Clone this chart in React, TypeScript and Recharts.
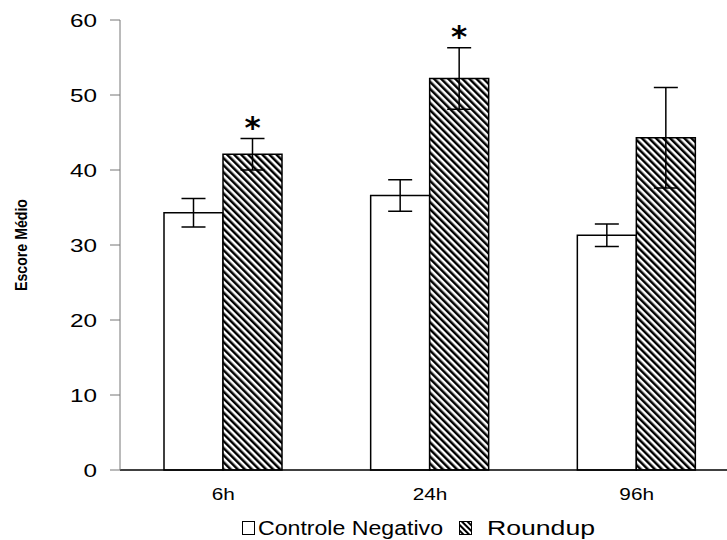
import React from 'react';
import { BarChart, Bar, XAxis, YAxis, ErrorBar, LabelList, Legend } from 'recharts';

const times = ['6h', '24h', '96h'];
const controle = [34.3, 36.6, 31.3];
const controleErr = [1.9, 2.1, 1.5];
const roundup = [42.1, 52.2, 44.3];
const roundupErr = [2.1, 4.1, 6.7];
const sig = ['*', '*', ''];
const yTicks = [0, 10, 20, 30, 40, 50, 60];

const data = times.map((t, i) => ({
  name: t,
  controle: controle[i],
  controleErr: controleErr[i],
  roundup: roundup[i],
  roundupErr: roundupErr[i],
  sig: sig[i],
}));

const font = '"Liberation Sans", Arial, sans-serif';
const wide = '"DejaVu Sans", sans-serif';

const Star = (props: any) => {
  const { x, y, width, height, index, value } = props;
  if (!value) return null;
  const pxPerUnit = height / roundup[index];
  const top = y - roundupErr[index] * pxPerUnit;
  return (
    <text x={x + width / 2} y={top - 1} textAnchor="middle" fontFamily={wide} fontSize={31} fontWeight="bold" fill="#000">
      {value}
    </text>
  );
};

// stretched tick text, the original uses a wide sans face
const YTick = (props: any) => {
  const { x, y, payload } = props;
  return (
    <text transform={`translate(${x},${y + 6.5}) scale(1.35,1)`} textAnchor="end" fontFamily={font} fontSize={18} fill="#000">
      {payload.value}
    </text>
  );
};

const XTick = (props: any) => {
  const { x, y, payload } = props;
  return (
    <text transform={`translate(${x},${y + 30}) scale(1.3,1)`} textAnchor="middle" fontFamily={font} fontSize={16} fill="#000">
      {payload.value}
    </text>
  );
};

const LegendBox = () => (
  <svg width={727} height={32} style={{ display: 'block' }}>
    <defs>
      <pattern id="hatchSmall" width={4} height={4} patternUnits="userSpaceOnUse" patternTransform="rotate(-45)">
        <rect width={4} height={4} fill="#fff" />
        <rect width={2} height={4} fill="#000" />
      </pattern>
    </defs>
    <rect x={242.5} y={13.5} width={12} height={13} fill="#fff" stroke="#000" strokeWidth={1} />
    <text x={258} y={27} fontFamily={font} fontSize={20} textLength={185} lengthAdjust="spacingAndGlyphs" fill="#000">
      Controle Negativo
    </text>
    <rect x={459.5} y={13.5} width={12} height={13} fill="url(#hatchSmall)" stroke="#000" strokeWidth={1} />
    <text x={487} y={27} fontFamily={font} fontSize={20} textLength={108} lengthAdjust="spacingAndGlyphs" fill="#000">
      Roundup
    </text>
  </svg>
);

export default function App() {
  return (
    <div style={{ position: 'absolute', left: 0, top: 0, width: 727, height: 540, overflow: 'hidden', background: '#fff' }}>
      <BarChart
        width={740}
        height={540}
        data={data}
        margin={{ top: 20, right: 0, left: 0, bottom: 0 }}
        barCategoryGap={44}
        barGap={0}
      >
        <defs>
          <pattern id="hatch" width={5} height={5} patternUnits="userSpaceOnUse" patternTransform="rotate(-45)">
            <rect width={5} height={5} fill="#fff" />
            <rect width={2.5} height={5} fill="#000" />
          </pattern>
        </defs>
        <XAxis
          dataKey="name"
          tickLine={false}
          tickSize={0}
          tickMargin={0}
          axisLine={{ stroke: '#000', strokeWidth: 1.5 }}
          tick={<XTick />}
          height={38}
        />
        <YAxis
          width={120}
          domain={[0, 60]}
          ticks={yTicks}
          tickSize={10}
          tickMargin={13}
          axisLine={{ stroke: '#777', strokeWidth: 1 }}
          tickLine={{ stroke: '#777', strokeWidth: 1 }}
          tick={<YTick />}
          label={{
            content: () => (
              <text
                transform="translate(27,245) rotate(-90)"
                textAnchor="middle"
                fontFamily={font}
                fontSize={16}
                fontWeight="bold"
                textLength={92}
                lengthAdjust="spacingAndGlyphs"
                fill="#000"
              >
                Escore Médio
              </text>
            ),
          }}
        />
        <Legend
          verticalAlign="bottom"
          height={32}
          wrapperStyle={{ left: 0, top: 508, width: 727 }}
          content={<LegendBox />}
        />
        <Bar dataKey="controle" fill="#fff" stroke="#000" strokeWidth={1.5} isAnimationActive={false}>
          <ErrorBar dataKey="controleErr" width={12} stroke="#000" strokeWidth={1.5} />
        </Bar>
        <Bar dataKey="roundup" fill="url(#hatch)" stroke="#000" strokeWidth={1.5} isAnimationActive={false}>
          <ErrorBar dataKey="roundupErr" width={12} stroke="#000" strokeWidth={1.5} />
          <LabelList dataKey="sig" content={<Star />} />
        </Bar>
      </BarChart>
    </div>
  );
}
